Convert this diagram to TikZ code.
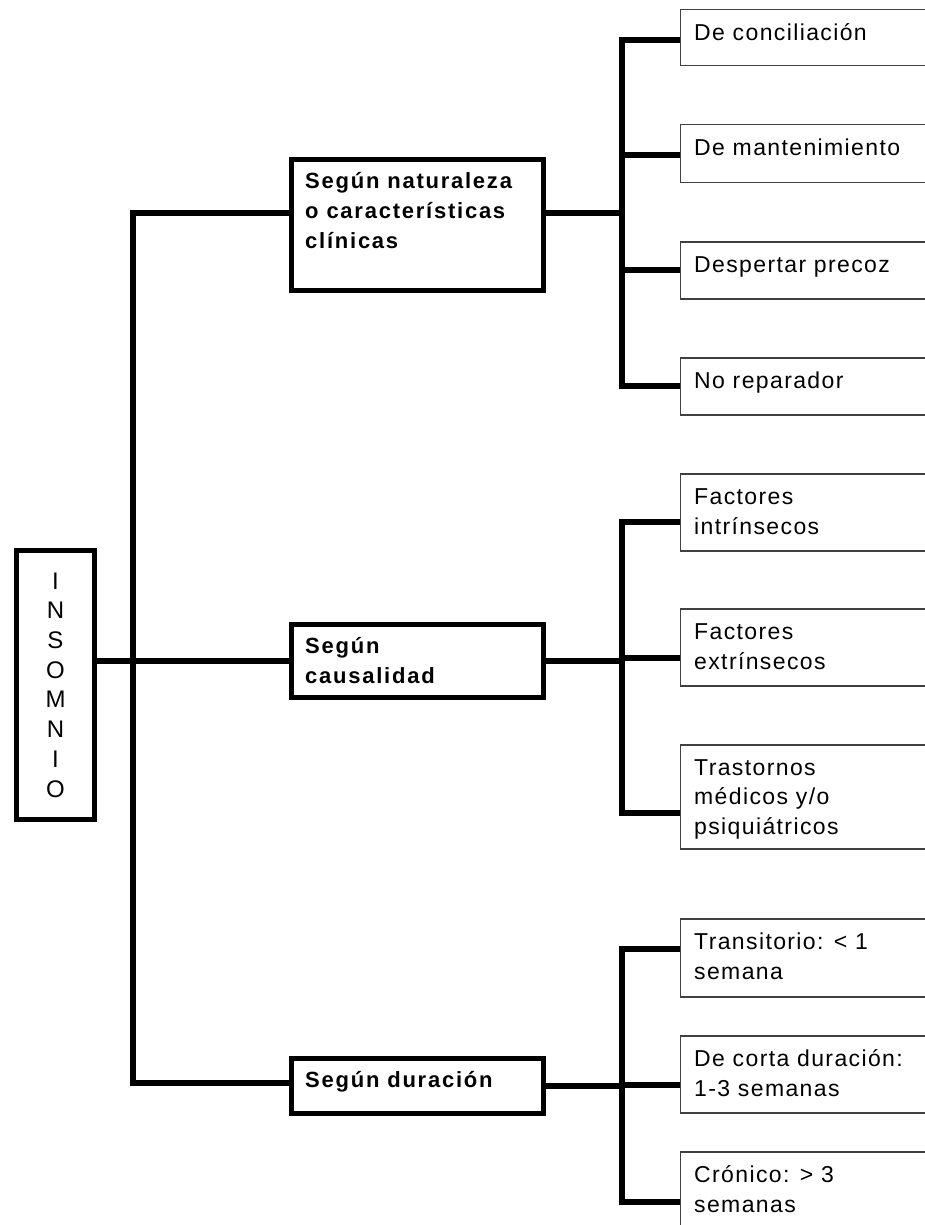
\documentclass[tikz,border=0pt]{standalone}
\usepackage{fontspec}
\setmainfont{Liberation Sans}
\newfontfamily\leaffont[LetterSpace=6]{Liberation Sans}
\newfontfamily\catfont[LetterSpace=8]{Liberation Sans}
\begin{document}
\begin{tikzpicture}[x=1pt,y=-1pt,
  conn/.style={line width=5.5pt, line cap=butt},
  spine/.style={line width=5.5pt, line cap=rect},
  insbox/.style={draw, line width=5.5pt, line join=miter, inner sep=0pt, align=center,
    font=\fontsize{24}{29.7}\selectfont},
  catbox/.style={draw, line width=5pt, line join=miter, inner sep=0pt, anchor=north west},
  leafbox/.style={draw=black!75, line width=1.5pt, inner sep=0pt, anchor=north west, minimum width=250.5pt},
  leaftxt/.style={anchor=base west, inner sep=0pt, align=left, font=\leaffont\fontsize{23}{29.5}\selectfont},
  cattxt/.style={anchor=base west, inner sep=0pt, align=left, font=\catfont\bfseries\fontsize{22}{30}\selectfont}]
\useasboundingbox (0,0) rectangle (925,1225);
\clip (0,0) rectangle (925,1225);
\fill[white] (0,0) rectangle (925,1225);

% root
\node[insbox, minimum width=78pt, minimum height=269pt] (ins) at (55.5,685)
  {I\\N\\S\\O\\M\\N\\I\\O};

% categories (text nodes are placed at the baseline of their last line)
\node[catbox, minimum width=252pt, minimum height=131pt] (c1) at (289,157) {};
\node[cattxt] (c1t) at (305,248) {Según naturaleza\\o características\\clínicas};
\node[catbox, minimum width=252pt, minimum height=73pt] (c2) at (289,622) {};
\node[cattxt] (c2t) at (305,683) {Según\\causalidad};
\node[catbox, minimum width=252pt, minimum height=55pt] (c3) at (289,1056) {};
\node[cattxt] (c3t) at (305,1087) {Según duración};

% leaves
\node[leafbox, minimum height=56pt] (l11) at (679.5,9) {};
\node[leaftxt] at (694,40.5) {De conciliación};
\node[leafbox, minimum height=58pt] (l12) at (679.5,124) {};
\node[leaftxt] at (694,155.5) {De mantenimiento};
\node[leafbox, minimum height=57pt] (l13) at (679.5,241) {};
\node[leaftxt] at (694,272.5) {Despertar precoz};
\node[leafbox, minimum height=57pt] (l14) at (679.5,357) {};
\node[leaftxt] at (694,388.5) {No reparador};

\node[leafbox, minimum height=77pt] (l21) at (679.5,473) {};
\node[leaftxt] at (694,534) {Factores\\intrínsecos};
\node[leafbox, minimum height=77pt] (l22) at (679.5,608) {};
\node[leaftxt] at (694,669) {Factores\\extrínsecos};
\node[leafbox, minimum height=104pt] (l23) at (679.5,744) {};
\node[leaftxt] at (694,834) {Trastornos\\médicos y/o\\psiquiátricos};

\node[leafbox, minimum height=78pt] (l31) at (679.5,918) {};
\node[leaftxt] at (694,979) {Transitorio: < 1\\semana};
\node[leafbox, minimum height=77pt] (l32) at (679.5,1035) {};
\node[leaftxt] at (694,1096) {De corta duración:\\1-3 semanas};
\node[leafbox, minimum height=90pt] (l33) at (679.5,1151) {};
\node[leaftxt] at (694,1212) {Crónico: > 3\\semanas};

% junction coordinates
\coordinate (jt) at (133,213);
\coordinate (jb) at (133,1083);
\coordinate (b11) at (622,40);
\coordinate (b12) at (622,155);
\coordinate (b13) at (622,270);
\coordinate (b14) at (622,386);
\coordinate (b21) at (622,522);
\coordinate (b22) at (622,658);
\coordinate (b23) at (622,813);
\coordinate (b31) at (622,949);
\coordinate (b32) at (622,1085);
\coordinate (b33) at (622,1202);

% left tree
\draw[spine] (jt) -- (jb);
\draw[conn] (jt) -- (jt -| c1.west);
\draw[conn] (jb) -- (jb -| c3.west);
\draw[conn] (c2.west -| ins.east) -- (c2.west);

% category to right spines
\draw[conn] (jt -| c1.east) -- (jt -| b11);
\draw[conn] (c2.east) -- (c2.east -| b21);
\draw[conn] (c3.east) -- (c3.east -| b31);

% right spines
\draw[spine] (b11) -- (b14);
\draw[spine] (b21) -- (b23);
\draw[spine] (b31) -- (b33);

% branches
\foreach \b/\l in {b11/l11,b12/l12,b13/l13,b14/l14,b21/l21,b22/l22,b23/l23,b31/l31,b32/l32,b33/l33}
  \draw[conn] (\b) -- (\b -| \l.west);
\end{tikzpicture}
\end{document}
